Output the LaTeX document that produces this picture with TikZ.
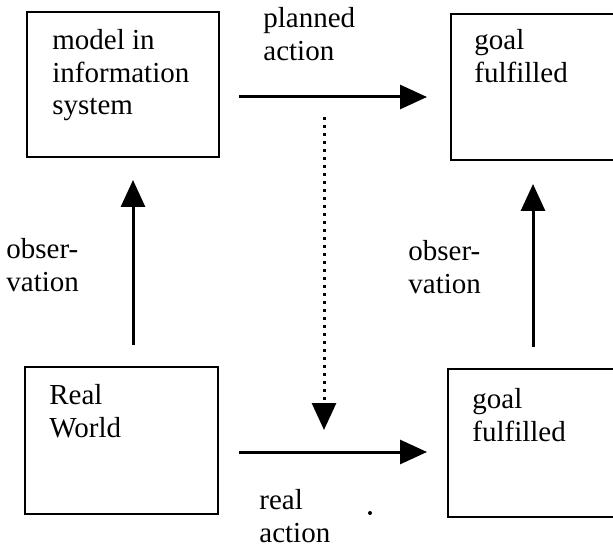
\documentclass[tikz,border=0pt]{standalone}
\usepackage{fontspec}
\setmainfont{Liberation Serif}
\usepackage{tikz}
\usetikzlibrary{calc,arrows.meta}
\tikzset{box/.style={draw=#1,line width=1pt,inner sep=0pt},box/.default=black}
\tikzset{words/.style={color=#1,anchor=north west,align=left,inner sep=0pt,
	font=\fontsize{14.5}{16.25}\selectfont},words/.default=black}
\tikzset{flow/.style={line width=1.5pt,-{Triangle[length=13.5pt,width=12pt]}}}
\tikzset{plan/.style={flow,dash pattern=on 1.5pt off 2.5pt}}

\begin{document}
\begin{tikzpicture}[x=0.5pt,y=-0.5pt]

	\useasboundingbox (0,0) rectangle (613,549);

	% As quatro caixas
	\node [box, minimum width=96pt, minimum height=72.5pt] (model) at (123,84.5) {};
	\node [box, minimum width=82.5pt, minimum height=73pt] (goal plan) at (533.5,87) {};
	\node [box, minimum width=96.5pt, minimum height=73.5pt] (world) at (121.5,440.5) {};
	\node [box, minimum width=84pt, minimum height=74pt] (goal real) at (532,443) {};

	% Os textos das caixas
	\node [words] (model text) at ($(model.north west) + (26,18)$)
		{model in\\information\\system};
	\node [words] (goal plan text) at ($(goal plan.north west) + (24,16)$)
		{goal\\fulfilled};
	\node [words] (world text) at ($(world.north west) + (25,18)$)
		{Real\\World};
	\node [words] (goal real text) at ($(goal real.north west) + (25,20)$)
		{goal\\fulfilled};

	% A flecha "planned action"
	\draw [flow] ($(model.east) + (19,12.5)$) -- ($(goal plan.west) + (-23,10)$);
	\node [words] (planned) at ($(model.north east) + (43,-4)$) {planned\\action};

	% A flecha "real action"
	\draw [flow] ($(world.east) + (20,11.5)$) -- ($(goal real.west) + (-20,9)$);
	\node [words] (real) at ($(world.south east) + (40,-26)$) {real\\action};

	% A flecha pontilhada entre as duas
	\coordinate (plan top) at (324,117);
	\coordinate (plan end) at (324,430);
	\draw [plan] (plan top) -- (plan end);

	% Flechas da observação
	\draw [flow] ($(world.north) + (11.5,-21)$) -- ($(model.south) + (10,22)$);
	\node [words] (obs left) at ($(model.south west) + (-20,80)$) {obser-\\vation};

	\draw [flow] ($(goal real.north) + (1,-21)$) -- ($(goal plan.south) + (-0.5,23)$);
	\node [words] (obs right) at ($(goal plan.south west) + (-42,79)$) {obser-\\vation};

	% O pontinho
	\fill [black] (370,513) circle (1pt);

\end{tikzpicture}
\end{document}
